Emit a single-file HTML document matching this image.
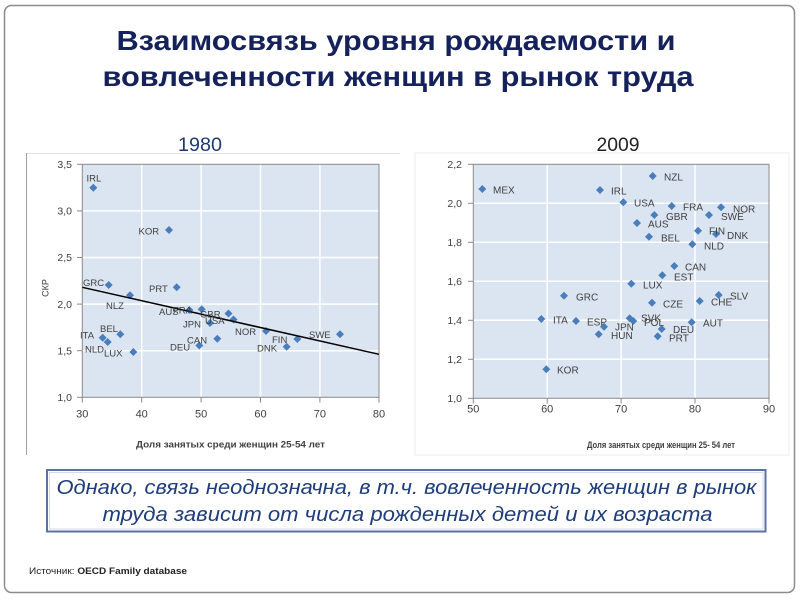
<!DOCTYPE html>
<html>
<head>
<meta charset="utf-8">
<style>
  html,body{margin:0;padding:0;background:#fff;}
  svg{display:block;}
  text{font-family:"Liberation Sans","DejaVu Sans",sans-serif;}
</style>
</head>
<body>
<svg width="800" height="600" viewBox="0 0 800 600" xmlns="http://www.w3.org/2000/svg">
  <rect x="0" y="0" width="800" height="600" fill="#fff"/>
  <!-- outer frame -->
  <rect x="4.5" y="5.5" width="790" height="587" rx="7" ry="7" fill="#fff" stroke="#8c8c8c" stroke-width="1.5"/>

  <!-- Title -->
  <text x="396" y="50" text-anchor="middle" font-size="28" font-weight="bold" fill="#14215a" textLength="559" lengthAdjust="spacingAndGlyphs">Взаимосвязь уровня рождаемости и</text>
  <text x="398" y="86" text-anchor="middle" font-size="28" font-weight="bold" fill="#14215a" textLength="591" lengthAdjust="spacingAndGlyphs">вовлеченности женщин в рынок труда</text>

  <!-- years -->
  <text x="200" y="151" text-anchor="middle" font-size="19" fill="#1f3a6e" textLength="44" lengthAdjust="spacingAndGlyphs">1980</text>
  <text x="618" y="151" text-anchor="middle" font-size="19" fill="#222" textLength="43" lengthAdjust="spacingAndGlyphs">2009</text>

  <!-- ===== LEFT CHART ===== -->
  <rect x="26" y="153" width="374" height="302" fill="#fff"/>
  <line x1="26" y1="153.5" x2="400" y2="153.5" stroke="#e4e4e4" stroke-width="1"/>
  <line x1="26.5" y1="153" x2="26.5" y2="455" stroke="#a0a0a0" stroke-width="1"/>

  <rect x="82.3" y="164.3" width="296.7" height="233" fill="#dbe5f1"/>
  <g stroke="#fff" stroke-width="1.5">
    <line x1="141.7" y1="164.3" x2="141.7" y2="397.3"/>
    <line x1="201.1" y1="164.3" x2="201.1" y2="397.3"/>
    <line x1="260.5" y1="164.3" x2="260.5" y2="397.3"/>
    <line x1="319.9" y1="164.3" x2="319.9" y2="397.3"/>
    <line x1="82.3" y1="350.7" x2="379" y2="350.7"/>
    <line x1="82.3" y1="304.1" x2="379" y2="304.1"/>
    <line x1="82.3" y1="257.5" x2="379" y2="257.5"/>
    <line x1="82.3" y1="210.9" x2="379" y2="210.9"/>
  </g>
  <rect x="82.3" y="164.3" width="296.7" height="233" fill="none" stroke="#8a8a8a" stroke-width="1"/>
  <g stroke="#8a8a8a" stroke-width="1">
    <line x1="77" y1="164.3" x2="82.3" y2="164.3"/>
    <line x1="77" y1="210.9" x2="82.3" y2="210.9"/>
    <line x1="77" y1="257.5" x2="82.3" y2="257.5"/>
    <line x1="77" y1="304.1" x2="82.3" y2="304.1"/>
    <line x1="77" y1="350.7" x2="82.3" y2="350.7"/>
    <line x1="77" y1="397.3" x2="82.3" y2="397.3"/>
    <line x1="82.3" y1="397.3" x2="82.3" y2="402.5"/>
    <line x1="141.7" y1="397.3" x2="141.7" y2="402.5"/>
    <line x1="201.1" y1="397.3" x2="201.1" y2="402.5"/>
    <line x1="260.5" y1="397.3" x2="260.5" y2="402.5"/>
    <line x1="319.9" y1="397.3" x2="319.9" y2="402.5"/>
    <line x1="379" y1="397.3" x2="379" y2="402.5"/>
  </g>
  <g font-size="10.5" fill="#404040" text-anchor="end">
    <text x="72" y="168">3,5</text>
    <text x="72" y="214.6">3,0</text>
    <text x="72" y="261.2">2,5</text>
    <text x="72" y="307.8">2,0</text>
    <text x="72" y="354.4">1,5</text>
    <text x="72" y="401">1,0</text>
  </g>
  <g font-size="11" fill="#404040" text-anchor="middle">
    <text x="82.3" y="417.5">30</text>
    <text x="141.7" y="417.5">40</text>
    <text x="201.1" y="417.5">50</text>
    <text x="260.5" y="417.5">60</text>
    <text x="319.9" y="417.5">70</text>
    <text x="379" y="417.5">80</text>
  </g>
  <text x="136" y="447.5" font-size="9.5" font-weight="bold" fill="#404040" textLength="189" lengthAdjust="spacingAndGlyphs">Доля занятых среди женщин 25-54 лет</text>
  <text transform="translate(48.5,288) rotate(-90)" text-anchor="middle" font-size="9" fill="#404040">СКР</text>

  <!-- left points -->
  <g fill="#4a7ebb">
    <path d="M93.3 183.7 l4 4 l-4 4 l-4 -4z"/>
    <path d="M169 226 l4 4 l-4 4 l-4 -4z"/>
    <path d="M108.7 281 l4 4 l-4 4 l-4 -4z"/>
    <path d="M130 291.3 l4 4 l-4 4 l-4 -4z"/>
    <path d="M176.7 283.3 l4 4 l-4 4 l-4 -4z"/>
    <path d="M189.3 306 l4 4 l-4 4 l-4 -4z"/>
    <path d="M201.7 305.3 l4 4 l-4 4 l-4 -4z"/>
    <path d="M228.5 309.5 l4 4 l-4 4 l-4 -4z"/>
    <path d="M233.5 315.5 l4 4 l-4 4 l-4 -4z"/>
    <path d="M210 319 l4 4 l-4 4 l-4 -4z"/>
    <path d="M217.3 334.8 l4 4 l-4 4 l-4 -4z"/>
    <path d="M199.3 341.5 l4 4 l-4 4 l-4 -4z"/>
    <path d="M266 327 l4 4 l-4 4 l-4 -4z"/>
    <path d="M297.3 335 l4 4 l-4 4 l-4 -4z"/>
    <path d="M286.7 342.7 l4 4 l-4 4 l-4 -4z"/>
    <path d="M340 330.3 l4 4 l-4 4 l-4 -4z"/>
    <path d="M102.7 333.7 l4 4 l-4 4 l-4 -4z"/>
    <path d="M120.3 330.3 l4 4 l-4 4 l-4 -4z"/>
    <path d="M107.7 338 l4 4 l-4 4 l-4 -4z"/>
    <path d="M133.3 348 l4 4 l-4 4 l-4 -4z"/>
  </g>
  <line x1="82.3" y1="287.3" x2="379" y2="354.3" stroke="#000" stroke-width="1.5"/>
  <g font-size="9.5" fill="#404040">
    <text x="86.5" y="181.5">IRL</text>
    <text x="138.5" y="234.5">KOR</text>
    <text x="83" y="286">GRC</text>
    <text x="106" y="309">NLZ</text>
    <text x="149" y="292">PRT</text>
    <text x="159" y="315">AUS</text>
    <text x="173" y="313.5">FRA</text>
    <text x="200" y="317.5">GBR</text>
    <text x="205" y="324">USA</text>
    <text x="183" y="327.5">JPN</text>
    <text x="187" y="343.5">CAN</text>
    <text x="170" y="350.5">DEU</text>
    <text x="235" y="335">NOR</text>
    <text x="272" y="343">FIN</text>
    <text x="257" y="351.5">DNK</text>
    <text x="309" y="338">SWE</text>
    <text x="80" y="338.5">ITA</text>
    <text x="100" y="332">BEL</text>
    <text x="85" y="352.5">NLD</text>
    <text x="104" y="356.5">LUX</text>
  </g>

  <!-- ===== RIGHT CHART ===== -->
  <rect x="415" y="153" width="374" height="302" fill="#fff" stroke="#ececec" stroke-width="1"/>
  <rect x="473.3" y="164.3" width="295.7" height="234" fill="#dbe5f1"/>
  <g stroke="#fff" stroke-width="1.5">
    <line x1="547.2" y1="164.3" x2="547.2" y2="398.3"/>
    <line x1="621.1" y1="164.3" x2="621.1" y2="398.3"/>
    <line x1="695" y1="164.3" x2="695" y2="398.3"/>
    <line x1="473.3" y1="359.3" x2="769" y2="359.3"/>
    <line x1="473.3" y1="320.3" x2="769" y2="320.3"/>
    <line x1="473.3" y1="281.3" x2="769" y2="281.3"/>
    <line x1="473.3" y1="242.3" x2="769" y2="242.3"/>
    <line x1="473.3" y1="203.3" x2="769" y2="203.3"/>
  </g>
  <rect x="473.3" y="164.3" width="295.7" height="234" fill="none" stroke="#8a8a8a" stroke-width="1"/>
  <g stroke="#8a8a8a" stroke-width="1">
    <line x1="468" y1="164.3" x2="473.3" y2="164.3"/>
    <line x1="468" y1="203.3" x2="473.3" y2="203.3"/>
    <line x1="468" y1="242.3" x2="473.3" y2="242.3"/>
    <line x1="468" y1="281.3" x2="473.3" y2="281.3"/>
    <line x1="468" y1="320.3" x2="473.3" y2="320.3"/>
    <line x1="468" y1="359.3" x2="473.3" y2="359.3"/>
    <line x1="468" y1="398.3" x2="473.3" y2="398.3"/>
    <line x1="473.3" y1="398.3" x2="473.3" y2="403.5"/>
    <line x1="547.2" y1="398.3" x2="547.2" y2="403.5"/>
    <line x1="621.1" y1="398.3" x2="621.1" y2="403.5"/>
    <line x1="695" y1="398.3" x2="695" y2="403.5"/>
    <line x1="769" y1="398.3" x2="769" y2="403.5"/>
  </g>
  <g font-size="10.5" fill="#404040" text-anchor="end">
    <text x="462" y="168">2,2</text>
    <text x="462" y="207">2,0</text>
    <text x="462" y="246">1,8</text>
    <text x="462" y="285">1,6</text>
    <text x="462" y="324">1,4</text>
    <text x="462" y="363">1,2</text>
    <text x="462" y="402">1,0</text>
  </g>
  <g font-size="11" fill="#404040" text-anchor="middle">
    <text x="473.3" y="412.3">50</text>
    <text x="547.2" y="412.3">60</text>
    <text x="621.1" y="412.3">70</text>
    <text x="695" y="412.3">80</text>
    <text x="769" y="412.3">90</text>
  </g>
  <text x="587" y="448" font-size="9" font-weight="bold" fill="#404040" textLength="148" lengthAdjust="spacingAndGlyphs">Доля занятых среди женщин 25- 54 лет</text>

  <g fill="#4a7ebb">
    <path d="M482.3 185 l4 4 l-4 4 l-4 -4z"/>
    <path d="M652.7 172 l4 4 l-4 4 l-4 -4z"/>
    <path d="M600 186 l4 4 l-4 4 l-4 -4z"/>
    <path d="M623.3 198.3 l4 4 l-4 4 l-4 -4z"/>
    <path d="M671.7 202 l4 4 l-4 4 l-4 -4z"/>
    <path d="M721 203.3 l4 4 l-4 4 l-4 -4z"/>
    <path d="M654.3 211 l4 4 l-4 4 l-4 -4z"/>
    <path d="M709 211 l4 4 l-4 4 l-4 -4z"/>
    <path d="M637 219 l4 4 l-4 4 l-4 -4z"/>
    <path d="M698 226.7 l4 4 l-4 4 l-4 -4z"/>
    <path d="M716 230 l4 4 l-4 4 l-4 -4z"/>
    <path d="M649 232.7 l4 4 l-4 4 l-4 -4z"/>
    <path d="M692.3 240.3 l4 4 l-4 4 l-4 -4z"/>
    <path d="M674.3 262 l4 4 l-4 4 l-4 -4z"/>
    <path d="M662.3 271.3 l4 4 l-4 4 l-4 -4z"/>
    <path d="M631.3 279.7 l4 4 l-4 4 l-4 -4z"/>
    <path d="M564 291.7 l4 4 l-4 4 l-4 -4z"/>
    <path d="M718.7 291 l4 4 l-4 4 l-4 -4z"/>
    <path d="M699.7 297 l4 4 l-4 4 l-4 -4z"/>
    <path d="M652 298.7 l4 4 l-4 4 l-4 -4z"/>
    <path d="M541.3 315 l4 4 l-4 4 l-4 -4z"/>
    <path d="M576 317 l4 4 l-4 4 l-4 -4z"/>
    <path d="M629.7 314.3 l4 4 l-4 4 l-4 -4z"/>
    <path d="M633.3 317 l4 4 l-4 4 l-4 -4z"/>
    <path d="M691.7 318.3 l4 4 l-4 4 l-4 -4z"/>
    <path d="M604 322.7 l4 4 l-4 4 l-4 -4z"/>
    <path d="M661.7 325 l4 4 l-4 4 l-4 -4z"/>
    <path d="M598.7 330.3 l4 4 l-4 4 l-4 -4z"/>
    <path d="M657.7 332.3 l4 4 l-4 4 l-4 -4z"/>
    <path d="M546.3 365.3 l4 4 l-4 4 l-4 -4z"/>
  </g>
  <g font-size="10" fill="#404040">
    <text x="493" y="193.5">MEX</text>
    <text x="664" y="180.5">NZL</text>
    <text x="611" y="194.5">IRL</text>
    <text x="634" y="206.5">USA</text>
    <text x="683" y="210.5">FRA</text>
    <text x="733" y="212.5">NOR</text>
    <text x="666" y="220">GBR</text>
    <text x="721" y="220">SWE</text>
    <text x="648" y="227.5">AUS</text>
    <text x="709" y="234.5">FIN</text>
    <text x="727" y="239">DNK</text>
    <text x="661" y="241.5">BEL</text>
    <text x="704" y="249.5">NLD</text>
    <text x="685" y="270.5">CAN</text>
    <text x="674" y="280.5">EST</text>
    <text x="643" y="288.5">LUX</text>
    <text x="576" y="300.5">GRC</text>
    <text x="730" y="299.5">SLV</text>
    <text x="711" y="305.5">CHE</text>
    <text x="663" y="307.5">CZE</text>
    <text x="553" y="323.5">ITA</text>
    <text x="587" y="325.5">ESP</text>
    <text x="641" y="321.5">SVK</text>
    <text x="644" y="326">POL</text>
    <text x="703" y="326.5">AUT</text>
    <text x="615" y="330.5">JPN</text>
    <text x="673" y="333">DEU</text>
    <text x="611" y="339">HUN</text>
    <text x="669" y="341.5">PRT</text>
    <text x="557" y="373.5">KOR</text>
  </g>

  <!-- text box -->
  <rect x="47" y="470" width="718.5" height="61.5" fill="#fff" stroke="#5a73a0" stroke-width="2"/>
  <rect x="49.5" y="472.5" width="713.5" height="56.5" fill="none" stroke="#d3dbea" stroke-width="1"/>
  <text x="406.5" y="494" text-anchor="middle" font-size="20" font-style="italic" fill="#1f3d7a" textLength="700" lengthAdjust="spacingAndGlyphs">Однако, связь неоднозначна, в т.ч. вовлеченность женщин в рынок</text>
  <text x="407.5" y="521" text-anchor="middle" font-size="20" font-style="italic" fill="#1f3d7a" textLength="610" lengthAdjust="spacingAndGlyphs">труда  зависит от числа рожденных детей и их возраста</text>

  <!-- source -->
  <text x="29" y="574" font-size="9" fill="#222" textLength="158" lengthAdjust="spacingAndGlyphs">Источник: <tspan font-weight="bold">OECD Family database</tspan></text>
</svg>
</body>
</html>
